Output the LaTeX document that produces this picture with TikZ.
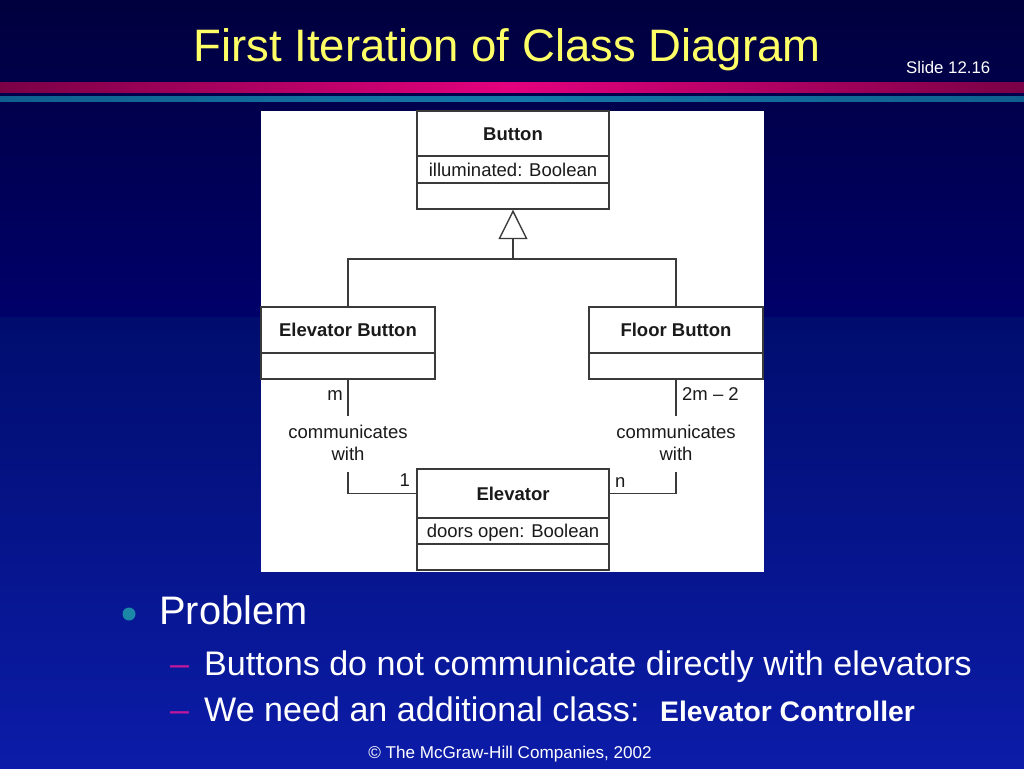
\documentclass[tikz,border=0pt]{standalone}
\usepackage{fontspec}
\setmainfont{Liberation Sans}
\usetikzlibrary{arrows.meta}
\definecolor{topA}{HTML}{00003E}
\definecolor{topB}{HTML}{00006A}
\definecolor{lowA}{HTML}{000D6E}
\definecolor{lowB}{HTML}{0C1CA8}
\definecolor{pinkEnd}{HTML}{7A0046}
\definecolor{pinkMid}{HTML}{E4007E}
\definecolor{tealEnd}{HTML}{0F5F8E}
\definecolor{tealMid}{HTML}{1478A8}
\definecolor{titleYellow}{HTML}{FFFF66}
\definecolor{bulletTeal}{HTML}{1C88A8}
\definecolor{dashMagenta}{HTML}{C0189C}
\definecolor{lineGray}{HTML}{3A3A3A}
\definecolor{textDark}{HTML}{1A1A1A}
\begin{document}
\begin{tikzpicture}[x=1pt,y=-1pt,
  dfont/.style={font={\fontsize{18.5}{22}\selectfont}},
  cls/.style={draw=lineGray, line width=1.4pt, fill=white, inner sep=0pt,
    text height=13.4pt, text depth=0pt, text=textDark, dfont},
  clsname/.style={cls, font={\fontsize{18.5}{22}\selectfont\bfseries}},
  wide/.style={minimum width=192pt},
  narrow/.style={minimum width=174pt},
  assoc/.style={draw=lineGray, line width=1.4pt},
  gen/.style={draw=lineGray, line width=1.4pt,
    -{Triangle[open, length=29.5pt 0 0, width=29pt 0 0, fill=white]}},
  lbl/.style={inner sep=0pt, text=textDark, dfont},
  slidetext/.style={inner sep=0pt, text=white},
]
\useasboundingbox (0,0) rectangle (1024,768);
% background
\shade[top color=topA, bottom color=topB] (0,0) rectangle (1024,317);
\shade[top color=lowA, bottom color=lowB] (0,317) rectangle (1024,768);
\shade[left color=pinkEnd, right color=pinkEnd, middle color=pinkMid] (0,82) rectangle (1024,92);
\shade[left color=tealEnd, right color=tealEnd, middle color=tealMid] (0,96) rectangle (1024,101.5);

% title
\node[slidetext, text=titleYellow, anchor=base, font={\fontsize{45.5}{50}\selectfont}] (title) at (507,61) {First Iteration of Class Diagram};
\node[slidetext, anchor=base west, font={\fontsize{16.8}{20}\selectfont}] (slideno) at (906,74) {Slide 12.16};

% diagram panel
\fill[white] (260.5,111) rectangle (764,572);

% classes
\node[clsname, wide, minimum height=45pt] (btnN) at (513,133.5) {Button};
\node[cls, wide, minimum height=27pt] (btnA) at (513,169.5) {illuminated: Boolean};
\node[cls, wide, minimum height=26pt] (btnO) at (513,196) {};

\node[clsname, narrow, minimum height=46pt] (ebN) at (348,330) {Elevator Button};
\node[cls, narrow, minimum height=26pt] (ebO) at (348,366) {};

\node[clsname, narrow, minimum height=46pt] (fbN) at (676,330) {Floor Button};
\node[cls, narrow, minimum height=26pt] (fbO) at (676,366) {};

\node[clsname, wide, minimum height=49pt] (elN) at (513,493.5) {Elevator};
\node[cls, wide, minimum height=26pt] (elA) at (513,531) {doors open: Boolean};
\node[cls, wide, minimum height=26pt] (elO) at (513,557) {};

% generalization
\coordinate (hub) at (513,259);
\draw[assoc] (ebN.north) |- (hub) -| (fbN.north);
\draw[gen] (hub) -- (btnO.south);

% associations
\coordinate (la) at (348,416);
\coordinate (lb) at (348,472);
\coordinate (ra) at (676,416);
\coordinate (rb) at (676,472);
\draw[assoc] (ebO.south) -- (la);
\draw[assoc] (lb) |- (elN.west);
\draw[assoc] (fbO.south) -- (ra);
\draw[assoc] (rb) |- (elN.east);

% association labels
\node[lbl, anchor=base east] (mulM) at (343,400) {m};
\node[lbl, anchor=base west] (mul2m) at (682,400) {2m -- 2};
\node[lbl, anchor=base east] (mul1) at (410,486) {1};
\node[lbl, anchor=base west] (mulN) at (615,487) {n};
\node[lbl, anchor=base] (lc1) at (348,438) {communicates};
\node[lbl, anchor=base] (lc2) at (348,460) {with};
\node[lbl, anchor=base] (rc1) at (676,438) {communicates};
\node[lbl, anchor=base] (rc2) at (676,460) {with};

% bullets
\fill[bulletTeal] (129,614) circle (6.5);
\node[slidetext, anchor=base west, font={\fontsize{39.8}{44}\selectfont}] (prob) at (159,624) {Problem};
\node[slidetext, text=dashMagenta, anchor=base west, font={\fontsize{34.1}{38}\selectfont}] (d1) at (170,675) {–};
\node[slidetext, anchor=base west, font={\fontsize{34.1}{38}\selectfont}] (b1) at (204,675) {Buttons do not communicate directly with elevators};
\node[slidetext, text=dashMagenta, anchor=base west, font={\fontsize{34.1}{38}\selectfont}] (d2) at (170,721) {–};
\node[slidetext, anchor=base west, font={\fontsize{34.1}{38}\selectfont}] (b2) at (204,721) {We need an additional class:};
\node[slidetext, anchor=base west, font={\fontsize{28.3}{32}\selectfont\bfseries}] (b2c) at (660,721) {Elevator Controller};

% footer
\node[slidetext, anchor=base, font={\fontsize{17.1}{20}\selectfont}] (copy) at (510,758) {© The McGraw-Hill Companies, 2002};
\end{tikzpicture}
\end{document}
